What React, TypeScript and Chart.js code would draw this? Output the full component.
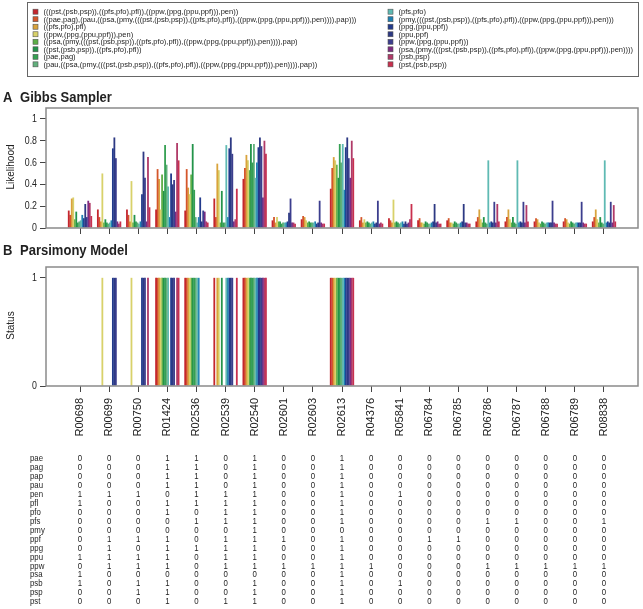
import React, { useEffect, useRef } from 'react';
import { Chart, registerables } from 'chart.js';

Chart.register(...registerables);

// ---------------- data ----------------
const reactions = ['R00698', 'R00699', 'R00750', 'R01424', 'R02536', 'R02539', 'R02540', 'R02601', 'R02603', 'R02613',
  'R04376', 'R05841', 'R06784', 'R06785', 'R06786', 'R06787', 'R06788', 'R06789', 'R08838'];

const clades = [
  '(((pst,(psb,psp)),((pfs,pfo),pfl)),((ppw,(ppg,(ppu,ppf))),pen))',
  '((pae,pag),(pau,((psa,(pmy,(((pst,(psb,psp)),((pfs,pfo),pfl)),((ppw,(ppg,(ppu,ppf))),pen)))),pap)))',
  '((pfs,pfo),pfl)',
  '((ppw,(ppg,(ppu,ppf))),pen)',
  '((psa,(pmy,(((pst,(psb,psp)),((pfs,pfo),pfl)),((ppw,(ppg,(ppu,ppf))),pen)))),pap)',
  '((pst,(psb,psp)),((pfs,pfo),pfl))',
  '(pae,pag)',
  '(pau,((psa,(pmy,(((pst,(psb,psp)),((pfs,pfo),pfl)),((ppw,(ppg,(ppu,ppf))),pen)))),pap))',
  '(pfs,pfo)',
  '(pmy,(((pst,(psb,psp)),((pfs,pfo),pfl)),((ppw,(ppg,(ppu,ppf))),pen)))',
  '(ppg,(ppu,ppf))',
  '(ppu,ppf)',
  '(ppw,(ppg,(ppu,ppf)))',
  '(psa,(pmy,(((pst,(psb,psp)),((pfs,pfo),pfl)),((ppw,(ppg,(ppu,ppf))),pen))))',
  '(psb,psp)',
  '(pst,(psb,psp))',
];

const cladeColors = ['#C4262E', '#D4562B', '#D9A33C', '#D8D16A', '#5DAE48', '#23934A', '#35A052', '#62B07C',
  '#5FBAB3', '#1F80B2', '#223A8C', '#2D3983', '#3C3E8E', '#7E2B81', '#B03A68', '#C9304E'];

// Gibbs sampler likelihood, one list per reaction (16 clades each, legend order)
const gR00698 = [0.16, 0.12, 0.27, 0.28, 0.08, 0.15, 0.05, 0.06, 0.07, 0.12, 0.09, 0.22, 0.10, 0.25, 0.23, 0.11];
const gR00699 = [0.17, 0.10, 0.06, 0.50, 0.05, 0.08, 0.05, 0.04, 0.05, 0.07, 0.73, 0.83, 0.64, 0.06, 0.04, 0.06];
const gR00750 = [0.17, 0.12, 0.06, 0.43, 0.05, 0.12, 0.06, 0.05, 0.04, 0.06, 0.31, 0.70, 0.46, 0.06, 0.65, 0.19];
const gR01424 = [0.17, 0.54, 0.45, 0.17, 0.49, 0.34, 0.76, 0.58, 0.38, 0.10, 0.50, 0.40, 0.44, 0.15, 0.78, 0.62];
const gR02536 = [0.16, 0.54, 0.37, 0.31, 0.49, 0.77, 0.35, 0.10, 0.05, 0.10, 0.28, 0.06, 0.16, 0.15, 0.06, 0.05];
const gR02539 = [0.27, 0.10, 0.59, 0.53, 0.05, 0.34, 0.05, 0.05, 0.76, 0.10, 0.73, 0.83, 0.68, 0.06, 0.08, 0.36];
const gR02540 = [0.45, 0.55, 0.67, 0.62, 0.53, 0.77, 0.60, 0.77, 0.46, 0.60, 0.74, 0.83, 0.75, 0.28, 0.80, 0.68];
const gR02601 = [0.07, 0.10, 0.05, 0.10, 0.06, 0.06, 0.04, 0.05, 0.05, 0.05, 0.06, 0.14, 0.27, 0.05, 0.05, 0.04];
const gR02603 = [0.08, 0.11, 0.10, 0.07, 0.05, 0.06, 0.05, 0.05, 0.05, 0.06, 0.04, 0.05, 0.25, 0.05, 0.04, 0.04];
const gR02613 = [0.36, 0.55, 0.65, 0.62, 0.58, 0.46, 0.77, 0.60, 0.77, 0.35, 0.74, 0.83, 0.64, 0.46, 0.80, 0.64];
const gR04376 = [0.07, 0.10, 0.05, 0.08, 0.05, 0.06, 0.05, 0.04, 0.05, 0.06, 0.04, 0.05, 0.25, 0.04, 0.05, 0.04];
const gR05841 = [0.09, 0.07, 0.05, 0.26, 0.05, 0.06, 0.05, 0.04, 0.05, 0.06, 0.04, 0.06, 0.04, 0.05, 0.08, 0.22];
const gR06784 = [0.07, 0.09, 0.05, 0.05, 0.04, 0.06, 0.05, 0.04, 0.04, 0.05, 0.06, 0.22, 0.05, 0.06, 0.04, 0.04];
const gR06785 = [0.07, 0.09, 0.05, 0.05, 0.04, 0.06, 0.05, 0.04, 0.04, 0.05, 0.06, 0.22, 0.05, 0.05, 0.04, 0.04];
const gR06786 = [0.06, 0.10, 0.17, 0.08, 0.05, 0.10, 0.05, 0.04, 0.62, 0.05, 0.06, 0.05, 0.24, 0.05, 0.22, 0.06];
const gR06787 = [0.06, 0.10, 0.17, 0.08, 0.05, 0.10, 0.05, 0.04, 0.62, 0.05, 0.06, 0.05, 0.24, 0.05, 0.21, 0.06];
const gR06788 = [0.06, 0.09, 0.08, 0.05, 0.04, 0.06, 0.05, 0.04, 0.05, 0.05, 0.05, 0.05, 0.25, 0.05, 0.04, 0.04];
const gR06789 = [0.06, 0.09, 0.08, 0.05, 0.04, 0.06, 0.05, 0.04, 0.05, 0.05, 0.05, 0.05, 0.24, 0.05, 0.04, 0.04];
const gR08838 = [0.06, 0.10, 0.17, 0.08, 0.05, 0.10, 0.05, 0.04, 0.62, 0.05, 0.06, 0.05, 0.24, 0.05, 0.21, 0.06];
const gibbsList = [gR00698, gR00699, gR00750, gR01424, gR02536, gR02539, gR02540, gR02601, gR02603, gR02613,
  gR04376, gR05841, gR06784, gR06785, gR06786, gR06787, gR06788, gR06789, gR08838];

// Parsimony status, one list per reaction (16 clades each)
const pR00698 = [0, 0, 0, 0, 0, 0, 0, 0, 0, 0, 0, 0, 0, 0, 0, 0];
const pR00699 = [0, 0, 0, 1, 0, 0, 0, 0, 0, 0, 1, 1, 1, 0, 0, 0];
const pR00750 = [0, 0, 0, 1, 0, 0, 0, 0, 0, 0, 1, 1, 1, 0, 1, 0];
const pR01424 = [1, 1, 1, 1, 1, 1, 1, 1, 1, 0, 1, 1, 1, 0, 1, 1];
const pR02536 = [1, 1, 1, 1, 1, 1, 1, 1, 1, 1, 0, 0, 0, 0, 0, 0];
const pR02539 = [1, 0, 1, 1, 0, 1, 0, 0, 1, 1, 1, 1, 1, 0, 0, 1];
const pR02540 = [1, 1, 1, 1, 1, 1, 1, 1, 1, 1, 1, 1, 1, 1, 1, 1];
const pR02601 = [0, 0, 0, 0, 0, 0, 0, 0, 0, 0, 0, 0, 0, 0, 0, 0];
const pR02603 = [0, 0, 0, 0, 0, 0, 0, 0, 0, 0, 0, 0, 0, 0, 0, 0];
const pR02613 = [1, 1, 1, 1, 1, 1, 1, 1, 1, 1, 1, 1, 1, 1, 1, 1];
const pR04376 = [0, 0, 0, 0, 0, 0, 0, 0, 0, 0, 0, 0, 0, 0, 0, 0];
const pR05841 = [0, 0, 0, 0, 0, 0, 0, 0, 0, 0, 0, 0, 0, 0, 0, 0];
const pR06784 = [0, 0, 0, 0, 0, 0, 0, 0, 0, 0, 0, 0, 0, 0, 0, 0];
const pR06785 = [0, 0, 0, 0, 0, 0, 0, 0, 0, 0, 0, 0, 0, 0, 0, 0];
const pR06786 = [0, 0, 0, 0, 0, 0, 0, 0, 0, 0, 0, 0, 0, 0, 0, 0];
const pR06787 = [0, 0, 0, 0, 0, 0, 0, 0, 0, 0, 0, 0, 0, 0, 0, 0];
const pR06788 = [0, 0, 0, 0, 0, 0, 0, 0, 0, 0, 0, 0, 0, 0, 0, 0];
const pR06789 = [0, 0, 0, 0, 0, 0, 0, 0, 0, 0, 0, 0, 0, 0, 0, 0];
const pR08838 = [0, 0, 0, 0, 0, 0, 0, 0, 0, 0, 0, 0, 0, 0, 0, 0];
const parsList = [pR00698, pR00699, pR00750, pR01424, pR02536, pR02539, pR02540, pR02601, pR02603, pR02613,
  pR04376, pR05841, pR06784, pR06785, pR06786, pR06787, pR06788, pR06789, pR08838];

// Presence table: one row per species across the 19 reactions
const species = ['pae', 'pag', 'pap', 'pau', 'pen', 'pfl', 'pfo', 'pfs', 'pmy', 'ppf', 'ppg', 'ppu', 'ppw', 'psa', 'psb', 'psp', 'pst'];
const sPae = [0, 0, 0, 1, 1, 0, 1, 0, 0, 1, 0, 0, 0, 0, 0, 0, 0, 0, 0];
const sPag = [0, 0, 0, 1, 1, 0, 1, 0, 0, 1, 0, 0, 0, 0, 0, 0, 0, 0, 0];
const sPap = [0, 0, 0, 1, 1, 0, 1, 0, 0, 1, 0, 0, 0, 0, 0, 0, 0, 0, 0];
const sPau = [0, 0, 0, 1, 1, 0, 1, 0, 0, 1, 0, 0, 0, 0, 0, 0, 0, 0, 0];
const sPen = [1, 1, 1, 0, 1, 1, 1, 0, 0, 1, 0, 1, 0, 0, 0, 0, 0, 0, 0];
const sPfl = [1, 0, 0, 1, 1, 1, 1, 0, 0, 1, 0, 0, 0, 0, 0, 0, 0, 0, 0];
const sPfo = [0, 0, 0, 1, 0, 1, 1, 0, 0, 1, 0, 0, 0, 0, 0, 0, 0, 0, 0];
const sPfs = [0, 0, 0, 0, 1, 1, 1, 0, 0, 1, 0, 0, 0, 0, 1, 1, 0, 0, 1];
const sPmy = [0, 0, 0, 0, 0, 0, 1, 0, 0, 0, 0, 0, 0, 0, 0, 0, 0, 0, 0];
const sPpf = [0, 1, 1, 1, 0, 1, 1, 1, 0, 1, 0, 0, 1, 1, 0, 0, 0, 0, 0];
const sPpg = [0, 1, 0, 1, 1, 1, 1, 0, 0, 1, 0, 0, 0, 0, 0, 0, 0, 0, 0];
const sPpu = [1, 1, 1, 1, 0, 1, 1, 0, 0, 1, 0, 0, 0, 0, 0, 0, 0, 0, 0];
const sPpw = [0, 1, 1, 1, 0, 1, 1, 1, 1, 1, 1, 0, 0, 0, 1, 1, 1, 1, 1];
const sPsa = [1, 0, 0, 0, 0, 0, 0, 0, 0, 1, 0, 0, 0, 0, 0, 0, 0, 0, 0];
const sPsb = [1, 0, 1, 1, 0, 0, 1, 0, 0, 1, 0, 1, 0, 0, 0, 0, 0, 0, 0];
const sPsp = [0, 0, 1, 1, 0, 0, 1, 0, 0, 1, 0, 0, 0, 0, 0, 0, 0, 0, 0];
const sPst = [0, 0, 0, 1, 0, 1, 1, 0, 0, 1, 0, 0, 0, 0, 0, 0, 0, 0, 0];
const presenceRows = [sPae, sPag, sPap, sPau, sPen, sPfl, sPfo, sPfs, sPmy, sPpf, sPpg, sPpu, sPpw, sPsa, sPsb, sPsp, sPst];

const yTicksA = [0, 0.2, 0.4, 0.6, 0.8, 1];
const yTicksB = [0, 1];

// ---------------- helpers ----------------
const FONT = '"Liberation Sans", Arial, Helvetica, sans-serif';
const TEXT = '#222';

function txt(ctx: CanvasRenderingContext2D, s: string, x: number, y: number, o: any = {}) {
  ctx.save();
  ctx.translate(x, y);
  if (o.rot) ctx.rotate(o.rot);
  ctx.scale(o.sx ?? 1, 1);
  ctx.font = `${o.bold ? 'bold ' : ''}${o.size ?? 10}px ${FONT}`;
  ctx.textAlign = o.align ?? 'left';
  ctx.textBaseline = o.base ?? 'middle';
  ctx.fillStyle = o.color ?? TEXT;
  ctx.fillText(s, 0, 0);
  ctx.restore();
}

const X_PAD = 1.168;

function makeX(height: number) {
  return {
    type: 'linear',
    min: -X_PAD,
    max: reactions.length - 1 + X_PAD,
    offset: false,
    afterBuildTicks: (sc: any) => { sc.ticks = reactions.map((_, i) => ({ value: i })); },
    afterFit: (sc: any) => { sc.height = height; },
    grid: { display: true, offset: false, drawOnChartArea: false, drawTicks: true, tickLength: 6, color: '#444', tickColor: '#444', lineWidth: 1 },
    border: { display: false },
    ticks: { display: false },
  };
}

function makeY(ticks: number[]) {
  return {
    type: 'linear',
    min: 0,
    max: 1.1,
    afterBuildTicks: (sc: any) => { sc.ticks = ticks.map((v) => ({ value: v })); },
    afterFit: (sc: any) => { sc.width = 46; },
    grid: { display: true, drawOnChartArea: false, drawTicks: true, tickLength: 6, color: '#444', tickColor: '#444', lineWidth: 1 },
    border: { display: false },
    ticks: { display: false },
  };
}

function makeDatasets(list: number[][]) {
  return clades.map((c, k) => ({
    label: c,
    data: reactions.map((_, i) => ({ x: i, y: list[i][k] })),
    backgroundColor: cladeColors[k],
    borderWidth: 0,
    barPercentage: 1.2,
    categoryPercentage: 0.825,
  }));
}

function drawBox(ctx: CanvasRenderingContext2D, a: any) {
  ctx.save();
  ctx.strokeStyle = '#8a8a8a';
  ctx.lineWidth = 1.5;
  ctx.strokeRect(a.left, a.top, a.right - a.left, a.bottom - a.top);
  ctx.restore();
}

const W = 643;
const HA = 236;
const HB = 373;

const panelAPlugin = {
  id: 'panelA',
  afterDraw(chart: any) {
    const ctx: CanvasRenderingContext2D = chart.ctx;
    const a = chart.chartArea;
    drawBox(ctx, a);
    const ys = chart.scales.y;
    yTicksA.forEach((v) => {
      txt(ctx, String(v), 37, ys.getPixelForValue(v), { size: 11, sx: 0.8, align: 'right' });
    });
    txt(ctx, 'Likelihood', 11, (a.top + a.bottom) / 2 - 1, { size: 10, rot: -Math.PI / 2, align: 'center' });
    txt(ctx, 'A', 3, 101.5, { size: 14, bold: true, sx: 0.93, base: 'alphabetic' });
    txt(ctx, 'Gibbs Sampler', 20, 101.5, { size: 14, bold: true, sx: 0.93, base: 'alphabetic' });
    // legend
    ctx.save();
    ctx.strokeStyle = '#666';
    ctx.lineWidth = 1;
    ctx.strokeRect(27.5, 2.5, 611, 74);
    ctx.restore();
    clades.forEach((c, k) => {
      const col = k < 8 ? 0 : 1;
      const row = k % 8;
      const yc = 11.7 + row * 7.52;
      const mx = col === 0 ? 33 : 388;
      ctx.save();
      ctx.fillStyle = cladeColors[k];
      ctx.fillRect(mx, yc - 2.5, 5, 5);
      ctx.strokeStyle = '#555';
      ctx.lineWidth = 0.6;
      ctx.strokeRect(mx, yc - 2.5, 5, 5);
      ctx.restore();
      txt(ctx, c, mx + 10.5, yc + 0.3, { size: 7.5 });
    });
  },
};

const panelBPlugin = {
  id: 'panelB',
  afterDraw(chart: any) {
    const ctx: CanvasRenderingContext2D = chart.ctx;
    const a = chart.chartArea;
    drawBox(ctx, a);
    const ys = chart.scales.y;
    const xs = chart.scales.x;
    yTicksB.forEach((v) => {
      txt(ctx, String(v), 37, ys.getPixelForValue(v), { size: 11, sx: 0.8, align: 'right' });
    });
    txt(ctx, 'Status', 11, (a.top + a.bottom) / 2 - 1, { size: 10, rot: -Math.PI / 2, align: 'center' });
    txt(ctx, 'B', 3, 18.5, { size: 14, bold: true, sx: 0.93, base: 'alphabetic' });
    txt(ctx, 'Parsimony Model', 20, 18.5, { size: 14, bold: true, sx: 0.93, base: 'alphabetic' });
    reactions.forEach((r, i) => {
      const x = xs.getPixelForValue(i);
      txt(ctx, r, x, a.bottom + 12, { size: 11, rot: -Math.PI / 2, align: 'right' });
    });
    species.forEach((s, j) => {
      const y = 222.3 + j * 8.96;
      txt(ctx, s, 30, y, { size: 9.8, sx: 0.8 });
      presenceRows[j].forEach((v, i) => {
        txt(ctx, String(v), xs.getPixelForValue(i), y, { size: 9.8, sx: 0.8, align: 'center' });
      });
    });
  },
};

function baseOptions(padTop: number, xHeight: number, yTicks: number[]) {
  return {
    animation: false,
    responsive: false,
    devicePixelRatio: 1,
    layout: { padding: { top: padTop, right: 5, left: 0, bottom: 0 } },
    plugins: { legend: { display: false }, tooltip: { enabled: false }, title: { display: false } },
    scales: { x: makeX(xHeight), y: makeY(yTicks) },
  };
}

export default function App() {
  const refA = useRef<HTMLCanvasElement>(null);
  const refB = useRef<HTMLCanvasElement>(null);

  useEffect(() => {
    const chartA = new Chart(refA.current as HTMLCanvasElement, {
      type: 'bar',
      data: { datasets: makeDatasets(gibbsList) as any },
      options: baseOptions(108, HA - 228, yTicksA) as any,
      plugins: [panelAPlugin],
    });
    const chartB = new Chart(refB.current as HTMLCanvasElement, {
      type: 'bar',
      data: { datasets: makeDatasets(parsList) as any },
      options: baseOptions(31, HB - 150, yTicksB) as any,
      plugins: [panelBPlugin],
    });
    return () => {
      chartA.destroy();
      chartB.destroy();
    };
  }, []);

  return (
    <div style={{ position: 'absolute', left: 0, top: 0, width: W, height: HA + HB, background: '#fff' }}>
      <canvas ref={refA} width={W} height={HA} style={{ position: 'absolute', left: 0, top: 0, width: W, height: HA }} />
      <canvas ref={refB} width={W} height={HB} style={{ position: 'absolute', left: 0, top: HA, width: W, height: HB }} />
    </div>
  );
}
